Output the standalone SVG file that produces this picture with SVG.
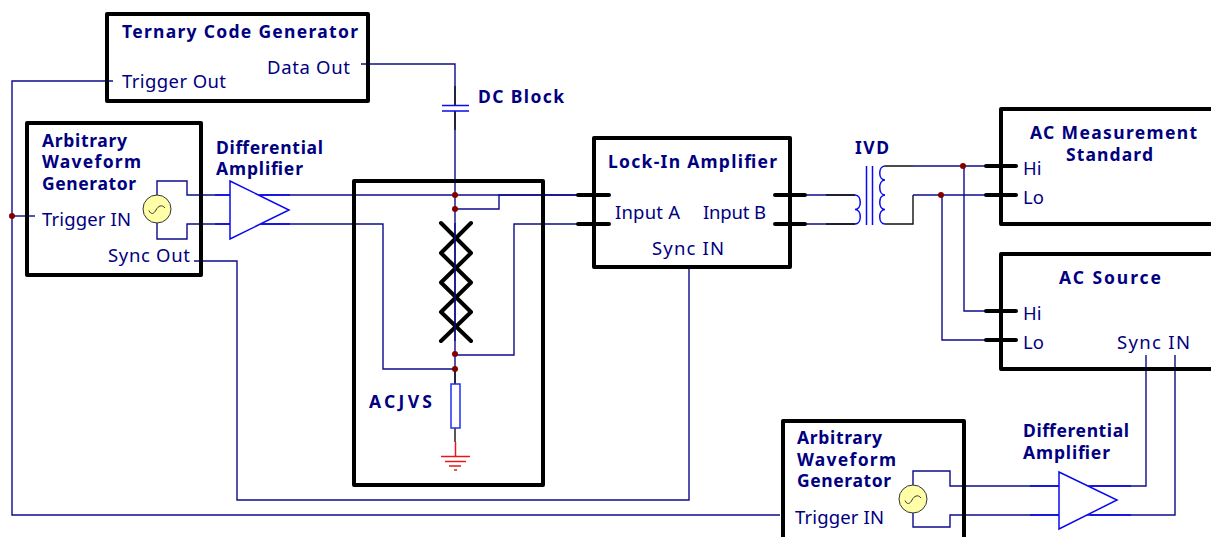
<svg xmlns="http://www.w3.org/2000/svg" width="1211" height="537" viewBox="0 0 1211 537">
<style>
text{font-family:"Noto Sans","Open Sans","Liberation Sans",sans-serif;fill:#000080;font-size:18.500px}
.b{font-weight:700;font-size:17.500px}
.box{fill:none;stroke:#000;stroke-width:4;stroke-linejoin:round}
.pin{fill:none;stroke:#000;stroke-width:4;stroke-linecap:round}
.w{fill:none;stroke:#0c0c8c;stroke-width:1.4}
.k{fill:none;stroke:#111;stroke-width:1.4}
.c{fill:none;stroke:#0a0af0;stroke-width:1.5}
.amp{fill:#fff;stroke:#0a0af0;stroke-width:1.5}
.src{fill:#ffffa8;stroke:#333;stroke-width:1}
.j{fill:#800000}
.g{fill:none;stroke:#e81818;stroke-width:1.5}
.jj{fill:none;stroke:#000;stroke-width:4;stroke-linecap:round;stroke-linejoin:round}
</style>
<defs>
<g id="source"><circle class="src" r="14"/><path d="M-8 1.500C-6 6-3 5-1 1S5-5 8-1" fill="none" stroke="#333" stroke-width="1"/></g>
</defs>
<g id="connectors">
<path class="w" d="M113 81H12V515H780"/>
<path class="w" d="M12 216H35"/>
<path class="w" d="M361 64H455V105M455 111V384"/>
<path class="k" d="M455 86V105M455 111V130"/>
<path class="w" d="M157 195V181H187V195H600"/>
<path class="w" d="M157 223V239H187V224H383V369H455"/>
<path class="w" d="M455 209H499V195H600M455 355H514V224H600"/>
<path class="k" d="M455 369V384M455 428V442"/>
<path class="w" d="M194 261H237V500H689V266"/>
<path class="w" d="M790 195H855M790 224H855"/>
<path class="k" d="M826 195H855M826 224H855"/>
<path class="k" d="M885 166H913M885 224H913V195"/>
<path class="w" d="M913 166H1000M913 195H1000M964 166V311H1000M942 195V340H1000"/>
<path class="w" d="M913 485V471H950V486H1146V355M913 513V527H950V515H1175V355"/>
<path class="c" d="M260 195H290M260 224H290M1090 486H1131M1090 515H1131M1030 486H1059M1030 515H1059M215 195H230M215 224H230"/>
</g>
<g id="ternary-code-generator">
<rect class="box" x="107" y="14" width="261" height="87"/>
<text class="b" x="122" y="38" textLength="236">Ternary Code Generator</text>
<text x="122" y="88" textLength="104">Trigger Out</text>
<text x="267" y="74" textLength="83">Data Out</text>
</g>
<g id="dc-block">
<path class="c" d="M442 105.500H469M442 111H469"/>
<text class="b" x="478" y="103" textLength="86">DC Block</text>
</g>
<g id="awg-1">
<rect class="box" x="27" y="123" width="174" height="152"/>
<text class="b" x="42" y="147" textLength="85">Arbitrary</text>
<text class="b" x="42" y="168" textLength="99">Waveform</text>
<text class="b" x="42" y="190" textLength="94">Generator</text>
<text x="42" y="226" textLength="89">Trigger IN</text>
<text x="108" y="262" textLength="82">Sync Out</text>
<use href="#source" x="157" y="209"/>
</g>
<g id="diff-amp-1">
<path class="amp" d="M230 181L289 210L230 239Z"/>
<text class="b" x="216" y="154" textLength="107">Differential</text>
<text class="b" x="216" y="175" textLength="87">Amplifier</text>
</g>
<g id="acjvs">
<rect class="box" x="354" y="181" width="189" height="304"/>
<path class="jj" d="M441 223L471 253L441 282.500L471 312L441 341M471 223L441 253L471 282.500L441 312L471 341"/>
<path class="w" d="M455 223V341"/>
<rect x="451" y="384" width="9" height="44" fill="#fff" stroke="#2030f0" stroke-width="1.500"/>
<path class="g" d="M455.500 442V456M441 456.500H470M445 461.500H466M449 466H461M454 470H457"/>
<text class="b" x="369" y="408" textLength="63">ACJVS</text>
</g>
<g id="lock-in-amplifier">
<rect class="box" x="594" y="138" width="196" height="129"/>
<path class="pin" d="M578 195H609M578 224H609M775 195H805M775 224H805"/>
<text class="b" x="608" y="168" textLength="169">Lock-In Amplifier</text>
<text x="615" y="219" textLength="65">Input A</text>
<text x="703" y="219" textLength="63">Input B</text>
<text x="652" y="255" textLength="72">Sync IN</text>
</g>
<g id="ivd">
<path class="c" d="M855 195C862 195 862 209.500 855 209.500C862 209.500 862 224 855 224M866.500 166V225M872.500 166V225M885 166C878 166 878 180 885 180C878 180 878 195 885 195C878 195 878 209.500 885 209.500C878 209.500 878 224 885 224"/>
<text class="b" x="855" y="154" textLength="34">IVD</text>
</g>
<g id="ac-measurement-standard">
<path class="box" d="M1220 109H1001V224H1220"/>
<path class="pin" d="M986 166H1016M986 195H1016"/>
<text class="b" x="1030" y="139" textLength="167">AC Measurement</text>
<text class="b" x="1066" y="161" textLength="87">Standard</text>
<text x="1023" y="175">Hi</text>
<text x="1023" y="204">Lo</text>
</g>
<g id="ac-source">
<path class="box" d="M1220 254H1001V369H1220"/>
<path class="pin" d="M986 311H1016M986 340H1016"/>
<text class="b" x="1059" y="284" textLength="102">AC Source</text>
<text x="1023" y="320">Hi</text>
<text x="1023" y="349">Lo</text>
<text x="1117" y="349" textLength="73">Sync IN</text>
</g>
<g id="awg-2">
<path class="box" d="M783 545V421H964V545"/>
<text class="b" x="797" y="444" textLength="85">Arbitrary</text>
<text class="b" x="797" y="466" textLength="99">Waveform</text>
<text class="b" x="797" y="487" textLength="94">Generator</text>
<text x="795" y="524" textLength="89">Trigger IN</text>
<use href="#source" x="913" y="499"/>
</g>
<g id="diff-amp-2">
<path class="amp" d="M1059 472L1117 500L1059 529Z"/>
<text class="b" x="1023" y="437" textLength="106">Differential</text>
<text class="b" x="1023" y="459" textLength="87">Amplifier</text>
</g>
<g id="junctions">
<circle class="j" cx="455" cy="195" r="3"/>
<circle class="j" cx="455" cy="209" r="3"/>
<circle class="j" cx="455" cy="354" r="3"/>
<circle class="j" cx="455" cy="369" r="3"/>
<circle class="j" cx="963" cy="166" r="3"/>
<circle class="j" cx="941" cy="195" r="3"/>
<circle class="j" cx="12" cy="216" r="3"/>
</g>
</svg>
